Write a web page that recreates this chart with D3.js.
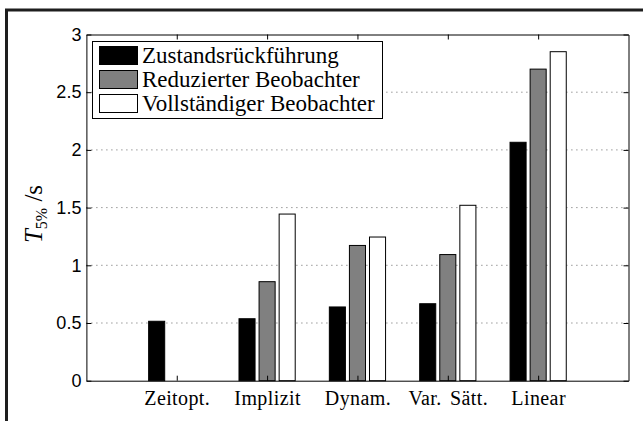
<!DOCTYPE html>
<html>
<head>
<meta charset="utf-8">
<script src="https://cdn.jsdelivr.net/npm/d3@7"></script>
<style>
  body { margin: 0; background: #fff; }
  svg { display: block; }
  .leg-text { font-family: "Liberation Serif", "Times New Roman", serif; font-size: 23px; fill: #000; }
</style>
</head>
<body>
<div id="chart"></div>
<script>
// daten
var categories = ["Zeitopt.", "Implizit", "Dynam.", "Var. Sätt.", "Linear"];
var seriesNames = ["Zustandsrückführung", "Reduzierter Beobachter", "Vollständiger Beobachter"];
var zustand = [0.515, 0.537, 0.639, 0.667, 2.066];
var reduziert = [null, 0.858, 1.172, 1.093, 2.70];
var vollstaendig = [null, 1.444, 1.245, 1.52, 2.851];
var yTicks = [0, 0.5, 1, 1.5, 2, 2.5, 3];

var series = [zustand, reduziert, vollstaendig];
var fills = ["#000000", "#808080", "#ffffff"];
var serif = "'Liberation Serif', 'Times New Roman', serif";

var W = 643, H = 421;
var margin = {top: 34.5, right: 14.5, bottom: 40.3, left: 86.4};

var svg = d3.select("#chart").append("svg")
  .attr("width", W)
  .attr("height", H);

// rahmen (oben und links sichtbar)
svg.append("path")
  .attr("d", "M6.5,421V10H643")
  .attr("fill", "none")
  .attr("stroke", "#1e1e1e")
  .attr("stroke-width", 3);

var x = d3.scaleLinear().domain([0, 6]).range([margin.left, W - margin.right]);
var y = d3.scaleLinear().domain([0, 3]).range([H - margin.bottom, margin.top]);

// grid (gepunktet, hinter den balken)
svg.append("g").selectAll("line")
  .data(yTicks.filter(function(d){ return d > 0 && d < 3; }))
  .enter().append("line")
    .attr("x1", x(0)).attr("x2", x(6))
    .attr("y1", function(d){ return y(d); })
    .attr("y2", function(d){ return y(d); })
    .attr("stroke", "#666")
    .attr("stroke-width", 1)
    .attr("stroke-dasharray", "1,4");

// balken, matlab-artig gruppiert
var groupW = 3 / 4.5;
var slot = groupW / 3;
var barW = slot * 0.8;
series.forEach(function(vals, s){
  var off = (s - 1) * slot;
  svg.append("g").selectAll("rect")
    .data(vals.map(function(v, i){ return {i: i, v: v}; }).filter(function(d){ return d.v !== null; }))
    .enter().append("rect")
      .attr("x", function(d){ return x(d.i + 1 + off - barW / 2); })
      .attr("width", x(barW) - x(0))
      .attr("y", function(d){ return y(d.v); })
      .attr("height", function(d){ return y(0) - y(d.v); })
      .attr("fill", fills[s])
      .attr("stroke", "#000")
      .attr("stroke-width", 1);
});

var catTicks = categories.map(function(c, i){ return i + 1; });

// achsen
var gLeft = svg.append("g")
  .attr("transform", "translate(" + x(0) + ",0)")
  .call(d3.axisLeft(y).tickValues(yTicks).tickFormat(d3.format("~g"))
    .tickSizeInner(-5).tickSizeOuter(0).tickPadding(5));
gLeft.selectAll("text")
  .attr("font-family", "'Liberation Sans', Arial, sans-serif")
  .attr("font-size", 18)
  .attr("fill", "#000");

svg.append("g")
  .attr("transform", "translate(" + x(6) + ",0)")
  .call(d3.axisRight(y).tickValues(yTicks).tickFormat("")
    .tickSizeInner(-5).tickSizeOuter(0));

svg.append("g")
  .attr("transform", "translate(0," + y(3) + ")")
  .call(d3.axisTop(x).tickValues(catTicks).tickFormat("")
    .tickSizeInner(-5).tickSizeOuter(0));

var gBottom = svg.append("g")
  .attr("transform", "translate(0," + y(0) + ")")
  .call(d3.axisBottom(x).tickValues(catTicks)
    .tickFormat(function(d){ return categories[d - 1]; })
    .tickSizeInner(-5).tickSizeOuter(0).tickPadding(10));
gBottom.selectAll("text")
  .attr("font-family", serif)
  .attr("font-size", 20)
  .attr("letter-spacing", 0.4)
  .attr("word-spacing", 3)
  .attr("fill", "#000");

svg.selectAll(".domain").attr("stroke", "#000");
svg.selectAll(".tick line").attr("stroke", "#000");

// y label T_5% / s
var yl = svg.append("text")
  .attr("transform", "translate(42,214) rotate(-90)")
  .attr("text-anchor", "middle")
  .attr("font-family", serif)
  .attr("font-size", 25)
  .attr("fill", "#000");
yl.append("tspan").attr("font-style", "italic").text("T");
yl.append("tspan").attr("font-size", 16).attr("dy", 5).text("5%");
yl.append("tspan").attr("dy", -5).text(" /s");

// legende
var lg = svg.append("g");
lg.append("rect")
  .attr("x", 92.5).attr("y", 41.5)
  .attr("width", 290).attr("height", 77)
  .attr("fill", "#fff")
  .attr("stroke", "#000")
  .attr("stroke-width", 1);
var rows = lg.selectAll("g.row")
  .data(seriesNames)
  .enter().append("g")
    .attr("class", "row")
    .attr("transform", function(d, i){ return "translate(0," + (i * 24) + ")"; });
rows.append("rect")
  .attr("x", 99.5).attr("y", 46.5)
  .attr("width", 38).attr("height", 18)
  .attr("fill", function(d, i){ return fills[i]; })
  .attr("stroke", "#000")
  .attr("stroke-width", 1);
rows.append("text")
  .attr("class", "leg-text")
  .attr("x", 142).attr("y", 63.3)
  .text(function(d){ return d; });
</script>
</body>
</html>
